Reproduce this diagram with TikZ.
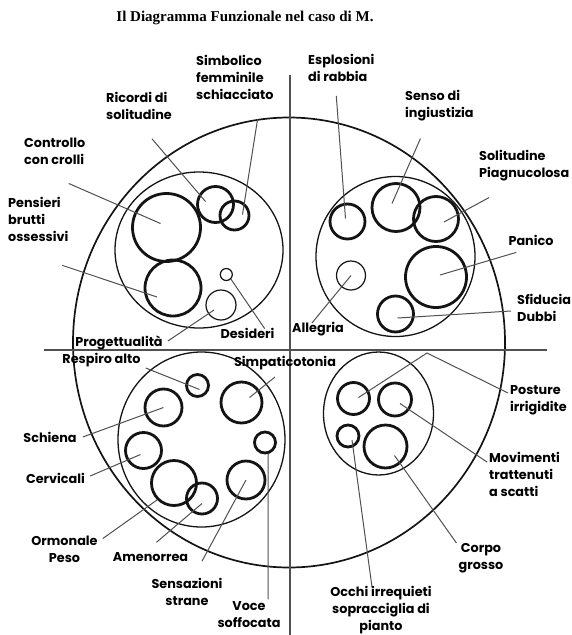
\documentclass[tikz,border=0pt]{standalone}
\usepackage{fontspec}
\setmainfont{Liberation Serif}
\newfontfamily\lblfont{Poppins}
\usetikzlibrary{shapes.geometric}
\definecolor{ink}{HTML}{141414}
\definecolor{lead}{HTML}{505050}

\begin{document}
\begin{tikzpicture}[x=1pt, y=-1pt,
  font=\lblfont\bfseries\fontsize{12.8}{17}\selectfont,
  lb/.style={inner sep=0pt, align=left, anchor=west},
  lc/.style={inner sep=0pt, align=center},
  thk/.style={circle, draw=ink, line width=2.8pt, inner sep=0pt},
  thn/.style={circle, draw=ink, line width=1.2pt, inner sep=0pt},
  grp/.style={ellipse, draw=ink, line width=1.3pt, inner sep=0pt},
  ld/.style={draw=lead, line width=1pt},
  ax/.style={draw=lead, line width=1.3pt}]

\useasboundingbox (0,0) rectangle (572,635);

\node[font=\rmfamily\bfseries\fontsize{15}{17}\selectfont] (title) at (245,18) {Il Diagramma Funzionale nel caso di M.};

% frame
\node[grp, line width=1.7pt, minimum width=432pt, minimum height=450pt] (big) at (289,342.5) {};
\draw[ax] (290,75) -- (290,635);
\draw[ax] (44,350) -- (547,350);

\node[grp, minimum width=168pt, minimum height=156pt] (gtl) at (199,250) {};
\node[grp, minimum width=159pt, minimum height=160pt] (gtr) at (395.5,256.5) {};
\node[grp, minimum width=167pt, minimum height=175pt] (gbl) at (201.5,439.5) {};
\node[grp, minimum width=110pt, minimum height=123pt] (gbr) at (378.5,413.5) {};

% top left
\node[thk, minimum size=68pt] (ctl) at (166.5,227.5) {};
\node[thk, minimum size=56pt] (pen) at (173,288) {};
\node[thk, minimum size=36pt] (ric) at (215.5,204.5) {};
\node[thk, minimum size=29pt] (sim) at (234.5,215.5) {};
\node[thn, minimum size=12pt] (des) at (226.3,274.5) {};
\node[thn, minimum size=30pt] (pro) at (221,305) {};

% top right
\node[thk, minimum size=35pt] (esp) at (347.5,221.5) {};
\node[thk, minimum size=48pt] (sen) at (396,207.5) {};
\node[thk, minimum size=45pt] (sol) at (436,219) {};
\node[thk, minimum size=61pt] (pan) at (436,277) {};
\node[thk, minimum size=36pt] (sfi) at (395.5,314) {};
\node[thn, minimum size=29pt] (all) at (351,275.5) {};

% bottom left
\node[thk, minimum size=22pt] (res) at (197.5,385.5) {};
\node[thk, minimum size=41pt] (smp) at (241.5,402.5) {};
\node[thk, minimum size=37pt] (sch) at (163.5,407.5) {};
\node[thk, minimum size=21pt] (voc) at (265,442.5) {};
\node[thk, minimum size=36pt] (cer) at (143.5,450.5) {};
\node[thk, minimum size=45pt] (orm) at (174,483) {};
\node[thk, minimum size=31pt] (ame) at (202,498.5) {};
\node[thk, minimum size=38pt] (szn) at (246,480) {};

% bottom right
\node[thk, minimum size=32pt] (pos) at (353.5,398.5) {};
\node[thk, minimum size=33pt] (mov) at (395,399.5) {};
\node[thk, minimum size=22pt] (occ) at (348,436) {};
\node[thk, minimum size=43pt] (cor) at (385.5,446.5) {};

% labels
\node[lb] (tsim) at (196,77) {Simbolico\\femminile\\schiacciato};
\node[lb] (tesp) at (308,68) {Esplosioni\\di rabbia};
\node[lb] (tric) at (106,106) {Ricordi di\\solitudine};
\node[lb] (tsen) at (405,106) {Senso di\\ingiustizia};
\node[lb] (tctl) at (24,151) {Controllo\\con crolli};
\node[lb] (tsol) at (479,166) {Solitudine\\Piagnucolosa};
\node[lb] (tpen) at (8,219) {Pensieri\\brutti\\ossessivi};
\node[lc] (tpan) at (531,240) {Panico};
\node[lb] (tsfi) at (517,308) {Sfiducia\\Dubbi};
\node[lc] (tpro) at (119,343) {Progettualità};
\node[lc] (tdes) at (247.5,333) {Desideri};
\node[lc] (tall) at (318,329) {Allegria};
\node[lc] (tres) at (101.5,360) {Respiro alto};
\node[lc] (tsmp) at (285,363) {Simpaticotonia};
\node[lb] (tpos) at (510,400) {Posture\\irrigidite};
\node[lc] (tsch) at (50,437) {Schiena};
\node[lb] (tmov) at (489,474) {Movimenti\\trattenuti\\a scatti};
\node[lc] (tcer) at (55.5,478) {Cervicali};
\node[lc] (torm) at (64.5,549) {Ormonale\\Peso};
\node[lc] (tame) at (150.5,557) {Amenorrea};
\node[lc] (tcor) at (481,558) {Corpo\\grosso};
\node[lc] (tszn) at (187,592) {Sensazioni\\strane};
\node[lc] (tvoc) at (249,614.5) {Voce\\soffocata};
\node[lc] (tocc) at (381,610) {Occhi irrequieti\\sopracciglia di\\pianto};

% leaders
\draw[ld] (big.98) -- ([shift={(8,-1)}]sim.center);
\draw[ld] ([shift={(-5,14)}]tesp.south) -- ([shift={(-2,-3)}]esp.center);
\draw[ld] ([shift={(13,19)}]tric.south) -- ([shift={(-10,-3)}]ric.center);
\draw[ld] ([shift={(-19,17)}]tsen.south) -- ([shift={(-4,-4)}]sen.center);
\draw[ld] ([shift={(14,19)}]tctl.south) -- ([shift={(-6,-4)}]ctl.center);
\draw[ld] ([shift={(10,16)}]tsol.south west) -- ([shift={(8,3)}]sol.center);
\draw[ld] ([shift={(24,24)}]tpen.south) -- ([shift={(-16,9)}]pen.center);
\draw[ld] ([shift={(8,7)}]tpan.south west) -- ([shift={(4,-2)}]pan.center);
\draw[ld] ([shift={(-6,3)}]tsfi.west) -- ([shift={(2,4)}]sfi.center);
\draw[ld] ([shift={(-6,1)}]tall.north) -- (all.center);
\draw[ld] ([shift={(5,-2)}]tpro.east) -- ([shift={(-7,5)}]pro.center);
\draw[ld] ([shift={(-10,1)}]tdes.north east) -- (des.-45);
\draw[ld] ([shift={(5,8)}]tres.east) -- ([shift={(2,4)}]res.center);
\draw[ld] ([shift={(-10,7)}]tsmp.south) -- ([shift={(8,-5)}]smp.center);
\draw[ld] ([shift={(6,0)}]tsch.east) -- (sch.center);
\draw[ld] ([shift={(5,-2)}]tcer.east) -- ([shift={(-3,4)}]cer.center);
\draw[ld] ([shift={(5,3)}]torm.north east) -- (orm.225);
\draw[ld] ([shift={(6,-10)}]tame.north) -- ([shift={(0,5)}]ame.center);
\draw[ld] ([shift={(15,-17)}]tszn.north) -- (szn.center);
\draw[ld] ([shift={(19,-2)}]tvoc.north) -- (voc.-75);
\coordinate (kink) at (427,353);
\draw[ld] ([shift={(-2,-7)}]tpos.west) -- (kink) -- ([shift={(5,-1)}]pos.center);
\draw[ld] ([shift={(-2,-12)}]tmov.west) -- ([shift={(5,4)}]mov.center);
\draw[ld] ([shift={(-2,0)}]tcor.north west) -- ([shift={(9,9)}]cor.center);
\draw[ld] ([shift={(-9,1)}]tocc.north) -- ([shift={(4,4)}]occ.center);
\end{tikzpicture}
\end{document}
